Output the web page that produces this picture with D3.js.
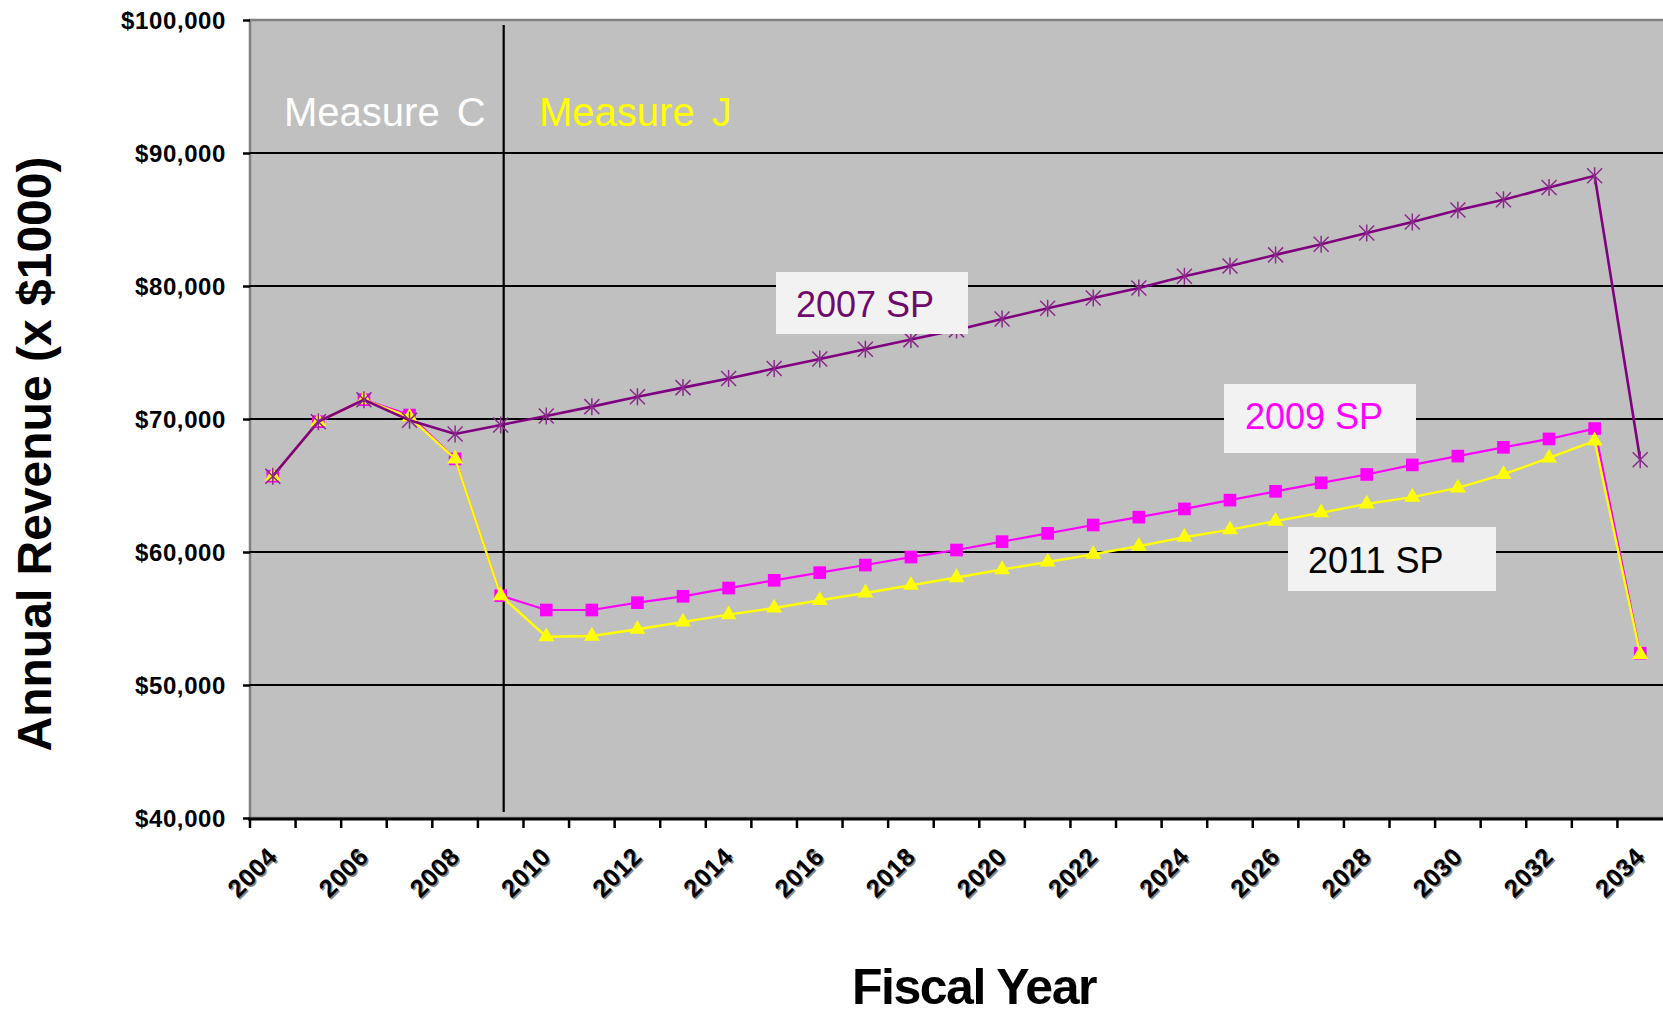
<!DOCTYPE html>
<html><head><meta charset="utf-8">
<script src="https://cdn.jsdelivr.net/npm/d3@7"></script>
<style>
html,body{margin:0;padding:0;background:#fff;}
svg{display:block;font-family:"Liberation Sans",Arial,sans-serif;}
</style></head>
<body>
<svg id="chart" width="1663" height="1016"></svg>
<script>
// ---- data ----
const years = [2004,2005,2006,2007,2008,2009,2010,2011,2012,2013,2014,2015,2016,2017,2018,2019,
               2020,2021,2022,2023,2024,2025,2026,2027,2028,2029,2030,2031,2032,2033,2034];
const labelYears = [2004,2006,2008,2010,2012,2014,2016,2018,2020,2022,2024,2026,2028,2030,2032,2034];
const yTicks = [40000,50000,60000,70000,80000,90000,100000];
const sp2007 = [65700,69800,71450,69900,68870,69550,70230,70930,71680,72360,73040,73790,74510,75240,75970,76700,
                77520,78320,79100,79850,80730,81500,82340,83140,83980,84810,85710,86480,87400,88290,66940];
const sp2009 = [65700,69800,71450,70300,67000,56720,55640,55640,56190,56670,57290,57870,58450,59020,59620,60150,
                60780,61400,62030,62620,63240,63900,64560,65200,65830,66550,67210,67870,68500,69280,52390];
const sp2011 = [65700,69800,71450,70150,67000,56720,53630,53680,54190,54740,55290,55790,56370,56920,57500,58080,
                58680,59250,59830,60440,61110,61680,62320,62950,63620,64130,64820,65830,67070,68360,52300];
const seriesNames = ["2007 SP","2009 SP","2011 SP"];
const measureYear = 2009;

// ---- layout ----
const svg = d3.select("#chart");
const L = 250, R = 1663, T = 20, B = 818;
const x = d3.scaleBand().domain(years).range([L, R]);
const y = d3.scaleLinear().domain([40000,100000]).range([B, T]);
const cx = d => x(d) + x.bandwidth()/2;

// plot background
svg.append("rect").attr("x",L).attr("y",T).attr("width",R-L+2).attr("height",B-T)
   .attr("fill","#C0C0C0").attr("stroke","#808080").attr("stroke-width",2.5);

// gridlines
svg.append("g").selectAll("line").data(yTicks.filter(v=>v>40000 && v<100000)).join("line")
   .attr("x1",L).attr("x2",R).attr("y1",d=>y(d)).attr("y2",d=>y(d))
   .attr("stroke","#000").attr("stroke-width",1.8);

// y axis ticks + labels
const yAxis = d3.axisLeft(y).tickValues(yTicks).tickSize(7).tickPadding(17)
   .tickFormat(d3.format("$,"));
const gy = svg.append("g").attr("transform",`translate(${L},0)`).call(yAxis);
gy.select(".domain").remove();
gy.selectAll(".tick line").attr("stroke","#000").attr("stroke-width",2.5);
gy.selectAll(".tick text").attr("font-size",24).attr("font-weight","bold")
   .attr("letter-spacing","0.6").attr("fill","#000").attr("dy","0.36em");

// x axis line + boundary ticks
svg.append("line").attr("x1",L-2).attr("x2",R).attr("y1",B+1).attr("y2",B+1)
   .attr("stroke","#000").attr("stroke-width",3);
svg.append("g").selectAll("line").data(years).join("line")
   .attr("x1",d=>x(d)).attr("x2",d=>x(d)).attr("y1",B).attr("y2",B+10)
   .attr("stroke","#000").attr("stroke-width",2.5);

// x labels (rotated) with grey shadow
const xl = svg.append("g");
labelYears.forEach(yr=>{
  const px = cx(yr)+6, py = B+40;
  xl.append("text").attr("transform",`translate(${px+1.5},${py+1.5}) rotate(-45)`)
    .attr("text-anchor","end").attr("font-size",25).attr("font-weight","bold")
    .attr("letter-spacing","0.5").attr("fill","#888").text(yr);
  xl.append("text").attr("transform",`translate(${px},${py}) rotate(-45)`)
    .attr("text-anchor","end").attr("font-size",25).attr("font-weight","bold")
    .attr("letter-spacing","0.5").attr("fill","#000").text(yr);
});

// measure divider
svg.append("line").attr("x1",cx(measureYear)+3).attr("x2",cx(measureYear)+3)
   .attr("y1",25).attr("y2",812).attr("stroke","#000").attr("stroke-width",2.2);

svg.append("text").attr("x",284).attr("y",126).attr("font-size",40).attr("fill","#FFFFFF")
   .attr("word-spacing","6").text("Measure C");
svg.append("text").attr("x",539).attr("y",126).attr("font-size",40).attr("fill","#FFFF00")
   .attr("word-spacing","6").text("Measure J");

// lines
const line = d3.line().x((d,i)=>cx(years[i])).y(d=>y(d));
// 2009 SP (magenta squares)
svg.append("path").datum(sp2009).attr("d",line).attr("fill","none")
   .attr("stroke","#FF00FF").attr("stroke-width",2.2);
svg.append("g").selectAll("path").data(sp2009).join("path")
   .attr("d",d3.symbol(d3.symbolSquare,160)())
   .attr("transform",(d,i)=>`translate(${cx(years[i])},${y(d)})`).attr("fill","#FF00FF");
// 2011 SP (yellow triangles)
svg.append("path").datum(sp2011).attr("d",line).attr("fill","none")
   .attr("stroke","#FFFF00").attr("stroke-width",2.4);
svg.append("g").selectAll("path").data(sp2011).join("path")
   .attr("d",d3.symbol(d3.symbolTriangle,110)())
   .attr("transform",(d,i)=>`translate(${cx(years[i])},${y(d)})`).attr("fill","#FFFF00");
// 2007 SP (purple asterisks)
svg.append("path").datum(sp2007).attr("d",line).attr("fill","none")
   .attr("stroke","#800080").attr("stroke-width",2.6);
const ast = "M-7.5,-7.5L7.5,7.5M-7.5,7.5L7.5,-7.5M0,-8.5L0,8.5";
svg.append("g").selectAll("path").data(sp2007).join("path")
   .attr("d",ast).attr("transform",(d,i)=>`translate(${cx(years[i])},${y(d)})`)
   .attr("stroke","#8a2a8a").attr("stroke-width",1.5).attr("fill","none");

// series label boxes
const boxes = [
  {name:seriesNames[0], x:776, y:272, w:192, h:62, tx:796, ty:317, c:"#6E0A6E"},
  {name:seriesNames[1], x:1224, y:384, w:192, h:69, tx:1245, ty:429, c:"#FF00FF"},
  {name:seriesNames[2], x:1288, y:527, w:208, h:64, tx:1308, ty:573, c:"#000000"}
];
boxes.forEach(b=>{
  svg.append("rect").attr("x",b.x).attr("y",b.y).attr("width",b.w).attr("height",b.h).attr("fill","#F2F2F2");
  svg.append("text").attr("x",b.tx).attr("y",b.ty).attr("font-size",36).attr("fill",b.c).text(b.name);
});

// axis titles
svg.append("text").attr("transform","translate(51,454) rotate(-90)").attr("text-anchor","middle")
   .attr("font-size",48).attr("font-weight","bold").attr("fill","#000").text("Annual Revenue (x $1000)");
svg.append("text").attr("x",974).attr("y",1004).attr("text-anchor","middle")
   .attr("font-size",50).attr("font-weight","bold").attr("letter-spacing","-1.5")
   .attr("fill","#000").text("Fiscal Year");
</script>
</body></html>
